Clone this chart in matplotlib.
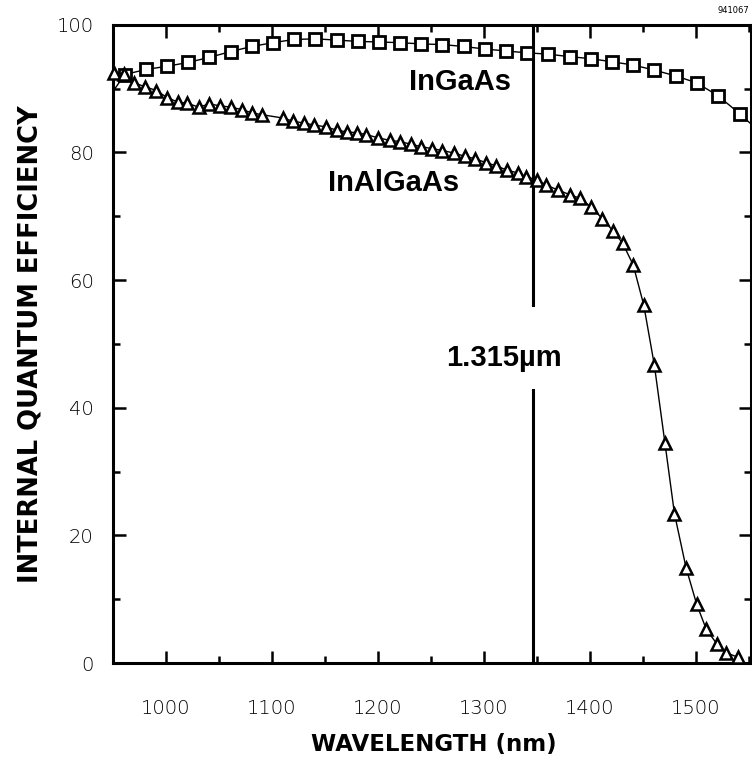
import matplotlib
matplotlib.use('Agg')
import matplotlib.pyplot as plt
from matplotlib.ticker import MultipleLocator

# InGaAs (squares)
ingaas_nm = [961, 981, 1001, 1021, 1041, 1061, 1081, 1101, 1121, 1141, 1161, 1181, 1201, 1221, 1241,
             1261, 1281, 1301, 1321, 1341, 1361, 1381, 1401, 1421, 1441, 1461, 1481, 1501, 1521, 1542]
ingaas_qe = [92.2, 93.0, 93.5, 94.1, 94.9, 95.8, 96.6, 97.2, 97.7, 97.8, 97.6, 97.4, 97.3, 97.2, 97.0,
             96.9, 96.6, 96.2, 95.9, 95.6, 95.4, 95.0, 94.7, 94.2, 93.7, 92.9, 92.0, 90.9, 88.9, 86.0]
# line ends running past the first/last square
ingaas_start = (951, 89.8)
ingaas_end = (1552, 84.5)

# InAlGaAs (triangles)
inalgaas_nm = [951, 960, 970, 980, 991, 1001, 1011, 1020, 1031, 1041, 1051, 1061, 1072, 1081, 1091,
               1110, 1120, 1130, 1140, 1151, 1161, 1171, 1180, 1189, 1200, 1211, 1221, 1231, 1241,
               1251, 1261, 1272, 1282, 1292, 1302, 1312, 1322, 1332, 1340, 1350, 1359, 1370, 1381,
               1391, 1401, 1412, 1422, 1431, 1441, 1451, 1461, 1471, 1480, 1491, 1501, 1510, 1520,
               1529, 1540]
inalgaas_qe = [92.5, 92.3, 90.9, 90.3, 89.7, 88.6, 87.9, 87.7, 87.1, 87.6, 87.3, 87.1, 86.7, 86.2, 85.9,
               85.4, 84.9, 84.6, 84.3, 84.0, 83.5, 83.2, 83.1, 82.8, 82.3, 81.9, 81.7, 81.3, 80.9,
               80.6, 80.3, 79.9, 79.4, 79.0, 78.4, 77.9, 77.2, 76.8, 76.2, 75.7, 74.9, 74.1, 73.4,
               72.8, 71.5, 69.6, 67.7, 65.8, 62.4, 56.1, 46.7, 34.5, 23.4, 14.9, 9.2, 5.3, 3.0,
               1.6, 0.9]

marker_line_nm = 1346
marker_label = "1.315\u00b5m"

fig = plt.figure(figsize=(7.52, 7.58), dpi=100)
ax = fig.add_axes([0.1503, 0.1253, 0.848, 0.842])

ax.plot([ingaas_start[0]] + ingaas_nm + [ingaas_end[0]],
        [ingaas_start[1]] + ingaas_qe + [ingaas_end[1]],
        color='black', lw=1.0, zorder=2, clip_on=True)
ax.plot(ingaas_nm, ingaas_qe, ls='none', marker='s', ms=9, mfc='white', mec='black', mew=2.0, zorder=3)
ax.plot(inalgaas_nm, inalgaas_qe, color='black', lw=1.0, marker='^', ms=9, mfc='white',
        mec='black', mew=1.8, zorder=3, clip_on=False)

# vertical line with a gap for the label
ax.plot([marker_line_nm, marker_line_nm], [0, 42.8], color='black', lw=2.2, zorder=1)
ax.plot([marker_line_nm, marker_line_nm], [56.1, 100], color='black', lw=2.2, zorder=1)
ax.text(1319, 47.8, marker_label, ha='center', va='center', fontsize=21, fontweight='bold',
        family='Liberation Sans')

ax.text(1278, 91.1, "InGaAs", ha='center', va='center', fontsize=21, fontweight='bold',
        family='Liberation Sans')
ax.text(1215, 75.2, "InAlGaAs", ha='center', va='center', fontsize=21, fontweight='bold',
        family='Liberation Sans')

ax.set_xlim(950, 1552)
ax.set_ylim(0, 100)
ax.xaxis.set_major_locator(MultipleLocator(100))
ax.xaxis.set_minor_locator(MultipleLocator(50))
ax.yaxis.set_major_locator(MultipleLocator(20))
ax.yaxis.set_minor_locator(MultipleLocator(10))
ax.tick_params(which='both', direction='in', top=True, right=True, width=1.8, labelsize=14,
               labelcolor='black')
ax.tick_params(which='major', length=9)
ax.tick_params(which='minor', length=5)
ax.tick_params(axis='x', pad=26)
ax.tick_params(axis='y', pad=14)
for lab in ax.get_xticklabels() + ax.get_yticklabels():
    lab.set_fontweight('light')
for s in ax.spines.values():
    s.set_linewidth(2.2)

fig.text(0.577, 1 - 745 / 758, "WAVELENGTH (nm)", ha='center', va='center', fontsize=16.5,
         fontweight='heavy')
fig.text(0.041, 0.546, "INTERNAL QUANTUM EFFICIENCY", ha='center', va='center', rotation=90,
         fontsize=18.5, fontweight='heavy')

fig.text(0.997, 0.992, "941067", ha='right', va='top', fontsize=6)

fig.savefig("out.png", dpi=100)
